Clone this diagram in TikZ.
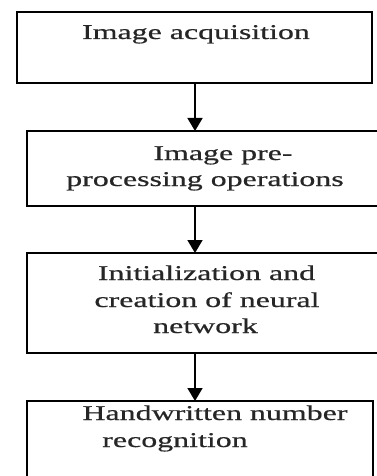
\documentclass[tikz,border=0pt]{standalone}
\usepackage{fontspec}
\setmainfont{Liberation Serif}[FakeStretch=1.52,FakeBold=0.6]
\usetikzlibrary{arrows.meta}
\begin{document}
\begin{tikzpicture}[x=1pt,y=1pt,
  stage/.style={draw=black, line width=1.6pt, rectangle, inner sep=0pt, outer sep=0pt},
  txt/.style={anchor=base, inner sep=0pt, text=black!85, font=\fontsize{21}{26}\selectfont},
  flow/.style={line width=1.7pt, -{Triangle[width=15pt,length=13pt]}}]
  \useasboundingbox (0,0) rectangle (377,-476);
  \fill[white] (0,0) rectangle (377,-476);

  % the four stages of the process
  \node[stage, minimum width=355, minimum height=71] (b1) at (194.5,-47.5) {};
  \node[stage, minimum width=355, minimum height=75] (b2) at (204.5,-168.5) {};
  \node[stage, minimum width=355, minimum height=100] (b3) at (204.5,-303) {};
  \node[stage, minimum width=346, minimum height=89] (b4) at (200,-445.5) {};

  % labels, one line each
  \node[txt] (t1) at (196,-39) {Image acquisition};
  \node[txt] (t2a) at (223,-160) {Image pre-};
  \node[txt] (t2b) at (205,-186) {processing operations};
  \node[txt] (t3a) at (206.5,-280) {Initialization and};
  \node[txt] (t3b) at (207,-307) {creation of neural};
  \node[txt] (t3c) at (205.5,-333) {network};
  \node[txt] (t4a) at (215,-420) {Handwritten number};
  \node[txt] (t4b) at (175,-447) {recognition};

  % connectors down the middle
  \coordinate (ax) at (195,0);
  \draw[flow] (b1.south -| ax) -- (b2.north -| ax);
  \draw[flow] (b2.south -| ax) -- (b3.north -| ax);
  \draw[flow] (b3.south -| ax) -- (b4.north -| ax);
\end{tikzpicture}
\end{document}
